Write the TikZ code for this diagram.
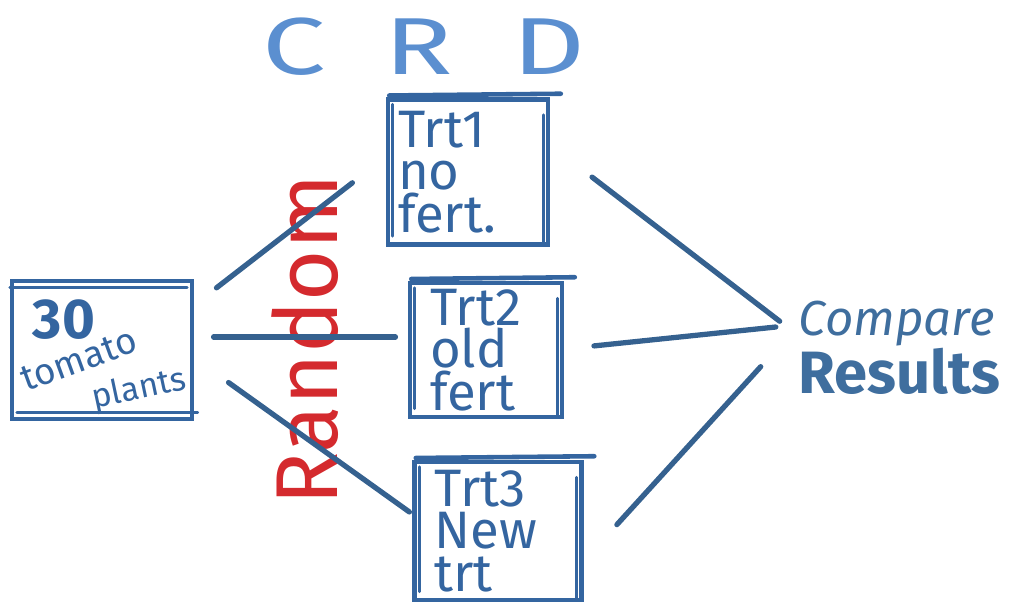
\documentclass[tikz,border=0pt]{standalone}
\usepackage{fontspec}
\setmainfont{Fira Sans}
\usetikzlibrary{calc}
\definecolor{inkblue}{HTML}{3465A0}
\definecolor{lineblue}{HTML}{35618F}
\definecolor{titleblue}{HTML}{5B8FD0}
\definecolor{resultblue}{HTML}{3F6E9E}
\definecolor{markerred}{HTML}{D42A2E}
\tikzset{
  stroke/.style={draw=inkblue, line width=2.6pt, line cap=round},
  fine stroke/.style={draw=inkblue, line width=1.6pt, line cap=round},
  treatment/.style={draw=inkblue, line width=2.6pt, inner ysep=0pt,
    align=left, text=inkblue, font=\fontsize{30}{24}\selectfont},
  link/.style={draw=lineblue, line width=3pt, line cap=round},
  word/.style={text=inkblue, inner sep=0pt},
}
% second marker strokes along the sides of a treatment box
\newcommand\trtstrokes[1]{
  \draw[fine stroke] ([xshift=4pt,yshift=-4pt]#1.north west) -- ([xshift=4pt,yshift=6pt]#1.south west);
  \draw[fine stroke] ([xshift=-4pt,yshift=-10pt]#1.north east) -- ([xshift=-4pt,yshift=2pt]#1.south east);
  \draw[stroke] ([xshift=2pt,yshift=1pt]#1.north west) -- ([xshift=6pt,yshift=2pt]#1.north east);
}
\begin{document}
\begin{tikzpicture}[x=0.02cm, y=-0.02cm]
\useasboundingbox (0,0) rectangle (1018,606);

% title
\node[font=\fontsize{46}{46}\selectfont, text=titleblue, xscale=1.4, transform shape] (title) at (424,47)
  {C\hspace{24pt}R\hspace{24pt}D};

% starting material
\node[draw=inkblue, line width=2.6pt, minimum width=3.6cm, minimum height=2.76cm] (plants) at (102,350) {};
\draw[fine stroke] ([yshift=-5pt]plants.north west) -- ([xshift=-4pt,yshift=-5pt]plants.north east);
\draw[fine stroke] ([xshift=4pt,yshift=5pt]plants.south west) -- ([xshift=2pt,yshift=5pt]plants.south east);
\node[word, font=\bfseries\fontsize{32}{32}\selectfont] (n30) at (64,320) {30};
\node[word, rotate=20, font=\fontsize{21}{21}\selectfont] (tomato) at (79,360) {tomato};
\node[word, rotate=12, font=\fontsize{19}{19}\selectfont] (plantsword) at (139,390) {plants};

% treatments
\node[treatment, inner xsep=0.2cm, text width=2.8cm, minimum height=2.9cm] (trt1) at (468,172) {Trt1\\no\\fert.};
\node[treatment, inner xsep=0.4cm, text width=2.24cm, minimum height=2.68cm] (trt2) at (486,350) {Trt2\\old\\fert};
\node[treatment, inner xsep=0.4cm, text width=2.54cm, minimum height=2.76cm] (trt3) at (498,531) {Trt3\\New\\trt};
\trtstrokes{trt1}
\trtstrokes{trt2}
\trtstrokes{trt3}

% outcome
\node[anchor=west, text=resultblue, align=left, inner sep=2pt] (compare) at (795,348)
  {{\itshape\fontsize{28}{31}\selectfont Compare}\\{\bfseries\fontsize{34}{31}\selectfont Results}};

% randomisation
\node[rotate=90, text=markerred, font=\fontsize{50}{50}\selectfont] (random) at (305,340) {Random};

% connectors
\draw[link, shorten <=16pt, shorten >=24pt] ($(plants.east)+(0,-45)$) -- ($(trt1.west)+(0,-15)$);
\draw[link, shorten <=11pt, shorten >=7pt]  ($(plants.east)+(0,-13)$) -- ($(trt2.west)+(0,-13)$);
\draw[link, shorten <=24pt, shorten >=2pt]  ($(plants.east)+(0,8)$)   -- ($(trt3.west)+(0,-17)$);
\draw[link, shorten <=30pt, shorten >=11pt] ($(trt1.east)+(0,-27)$)  -- ($(compare.west)+(0,-15)$);
\draw[link, shorten <=17pt, shorten >=11pt] ($(trt2.east)+(0,-1)$)   -- ($(compare.west)+(0,-23)$);
\draw[link, shorten <=28pt, shorten >=29pt] ($(trt3.east)+(0,30)$)   -- ($(compare.west)+(0,-19)$);
\end{tikzpicture}
\end{document}
